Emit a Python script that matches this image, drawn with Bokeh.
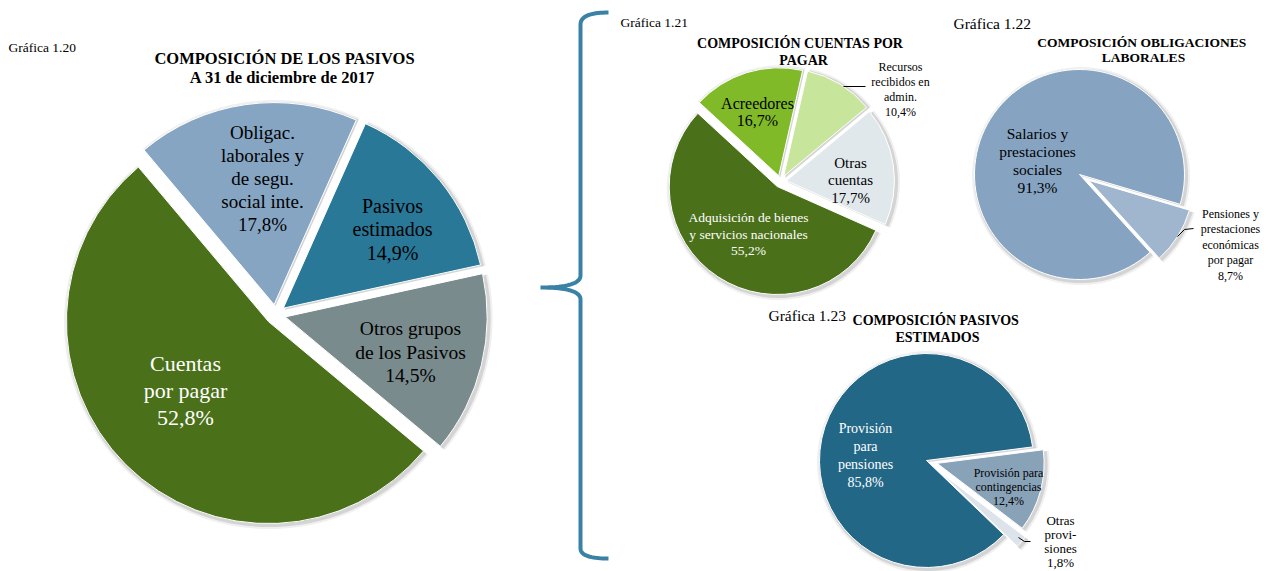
import math
import numpy as np
from bokeh.plotting import figure
from bokeh.models import Range1d, ColumnDataSource
from bokeh.core.properties import value
from bokeh.embed import file_html
from bokeh.resources import INLINE

# ---------------- data ----------------
main_labels = ["Pasivos\nestimados\n14,9%", "Otros grupos\nde los Pasivos\n14,5%",
               "Cuentas\npor pagar\n52,8%", "Obligac.\nlaborales y\nde segu.\nsocial inte.\n17,8%"]
main_values = [14.9, 14.5, 52.8, 17.8]
main_colors = ["#297898", "#7a8b8d", "#4b701a", "#86a5c3"]

cxp_labels = ["Recursos\nrecibidos en\nadmin.\n10,4%", "Otras\ncuentas\n17,7%",
              "Adquisición de bienes\ny servicios nacionales\n55,2%", "Acreedores\n16,7%"]
cxp_values = [10.4, 17.7, 55.2, 16.7]
cxp_colors = ["#c8e69b", "#e1e8ec", "#4b701a", "#80ba28"]

obl_labels = ["Pensiones y\nprestaciones\neconómicas\npor pagar\n8,7%", "Salarios y\nprestaciones\nsociales\n91,3%"]
obl_values = [8.7, 91.3]
obl_colors = ["#a0b6ce", "#86a4c2"]

pes_labels = ["Provisión para\ncontingencias\n12,4%", "Otras\nprovi-\nsiones\n1,8%", "Provisión\npara\npensiones\n85,8%"]
pes_values = [12.4, 1.8, 85.8]
pes_colors = ["#88a2b8", "#dce3ea", "#236787"]

# ---------------- figure ----------------
W, H = 1271, 571
p = figure(width=W, height=H, x_range=Range1d(0, W), y_range=Range1d(0, H),
           output_backend="svg", toolbar_location=None, min_border=0)
p.axis.visible = False
p.grid.visible = False
p.outline_line_color = None
p.background_fill_color = "white"
p.border_fill_color = "white"

SERIF = "Liberation Serif"


def X(x):
    return x


def Y(y):
    return H - y


def pie(cx, cy, r, values, colors, start_deg, explode):
    total = float(sum(values))
    cum = start_deg
    xs, ys, sa, ea, cols = [], [], [], [], []
    for v, c, e in zip(values, colors, explode):
        t1 = cum
        t2 = cum + v / total * 360.0
        cum = t2
        mid = math.radians((t1 + t2) / 2)
        xs.append(X(cx) + math.sin(mid) * e)
        ys.append(Y(cy) + math.cos(mid) * e)
        sa.append(math.radians(90 - t2))
        ea.append(math.radians(90 - t1))
        cols.append(c)
    src = ColumnDataSource(dict(x=xs, y=ys, sa=sa, ea=ea, c=cols,
                                xs=[a + 1.5 for a in xs], ys=[b - 1.5 for b in ys]))
    p.wedge(x="xs", y="ys", radius=r + 4, start_angle="sa", end_angle="ea", direction="anticlock",
            fill_color="#808080", fill_alpha=0.12, line_color=None, source=src)
    p.wedge(x="xs", y="ys", radius=r + 2, start_angle="sa", end_angle="ea", direction="anticlock",
            fill_color="#808080", fill_alpha=0.25, line_color=None, source=src)
    p.wedge(x="x", y="y", radius=r, start_angle="sa", end_angle="ea", direction="anticlock",
            fill_color="c", line_color="white", line_width=1, source=src)


def label(txt, x, y, size, spacing, color="black", bold=False, align="center"):
    lines = txt.split("\n")
    xs = [X(x)] * len(lines)
    ys = [Y(y + i * spacing) for i in range(len(lines))]
    p.text(x=xs, y=ys, text=lines, text_font=value(SERIF), text_font_size=f"{size}px",
           text_color=color, text_align=align, text_baseline="middle",
           text_font_style="bold" if bold else "normal")


# ---------------- pies ----------------
pie(275, 314, 202, main_values, main_colors, 24, [10, 10, 10, 10])
pie(780, 181, 108, cxp_values, cxp_colors, 12.8, [6, 6, 6, 6])
pie(1079, 174, 105, obl_values, obl_colors, 106.5, [11, 0])
pie(926, 460, 107, pes_values, pes_colors, 82.7, [11, 18, 0])

# ---------------- brace ----------------
def quad(p0, c, p1, n=20):
    t = np.linspace(0, 1, n)
    x = (1 - t) ** 2 * p0[0] + 2 * (1 - t) * t * c[0] + t ** 2 * p1[0]
    y = (1 - t) ** 2 * p0[1] + 2 * (1 - t) * t * c[1] + t ** 2 * p1[1]
    return list(x), list(y)

bx, by = [], []
for seg in [quad((608, 12), (580, 12), (580, 24)),
            ([580, 580], [24, 275]),
            quad((580, 275), (580, 287), (540, 287)),
            quad((540, 287), (580, 287), (580, 299)),
            ([580, 580], [299, 548]),
            quad((580, 548), (580, 558), (608, 558))]:
    bx += list(seg[0])
    by += list(seg[1])
p.line([X(v) for v in bx], [Y(v) for v in by], line_color="#2e7aa0", line_width=4, line_alpha=0.95)

# ---------------- titles ----------------
label("Gráfica  1.20", 8, 47, 13.5, 0, align="left")
label("COMPOSICIÓN DE LOS PASIVOS\nA 31 de diciembre  de 2017", 284, 58, 16.5, 19, bold=True)
label("Gráfica  1.21", 620, 22, 13.5, 0, align="left")
label("COMPOSICIÓN  CUENTAS  POR\nPAGAR", 803, 43, 14, 17, bold=True)
label("Gráfica 1.22", 953, 23, 15.5, 0, align="left")
label("COMPOSICIÓN  OBLIGACIONES\nLABORALES", 1143, 42, 13.5, 15, bold=True)
label("Gráfica 1.23", 768, 315, 15.5, 0, align="left")
label("COMPOSICIÓN  PASIVOS\nESTIMADOS", 937, 320, 14, 17, bold=True)

# ---------------- slice labels ----------------
label(main_labels[3], 262, 132, 19, 23)
label(main_labels[0], 392, 205, 20, 23.5)
label(main_labels[1], 410, 328, 19.5, 23.5)
label(main_labels[2], 185, 363, 22, 27, color="white")

label(cxp_labels[3], 757, 103, 16, 17)
label(cxp_labels[1], 850, 162, 15, 17.5)
label(cxp_labels[2], 748, 217, 13.5, 16.5, color="white")
label(cxp_labels[0], 900, 66, 12, 15.3)
p.line([X(843), X(865)], [Y(86), Y(86)], line_color="black", line_width=1)

label(obl_labels[1], 1037, 133, 15.5, 18)
label(obl_labels[0], 1230, 213, 12, 15.5)
p.line([X(1177), X(1184), X(1193)], [Y(236), Y(229), Y(228)], line_color="black", line_width=1)

label(pes_labels[2], 865, 428, 14, 18, color="white")
label(pes_labels[0], 1008, 472, 12, 14)
label(pes_labels[1], 1060, 520, 13, 14)
p.line([X(1018), X(1024), X(1030)], [Y(537), Y(541), Y(541)], line_color="black", line_width=1)

open("out.html", "w").write(file_html(p, INLINE))
